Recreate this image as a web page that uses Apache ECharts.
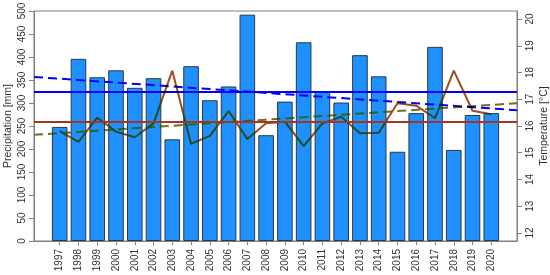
<!DOCTYPE html>
<html>
<head>
<meta charset="utf-8">
<script src="https://cdn.jsdelivr.net/npm/echarts@6/dist/echarts.min.js"></script>
<style>html,body{margin:0;padding:0;background:#fff;}#c{width:550px;height:275px;}</style>
</head>
<body>
<div id="c"></div>
<script>
const years = [1997,1998,1999,2000,2001,2002,2003,2004,2005,2006,2007,2008,2009,2010,2011,2012,2013,2014,2015,2016,2017,2018,2019,2020];
const precipitation = [248,396,356,371,333,354,221,380,306,336,492,230,303,432,325,301,404,358,194,278,422,198,274,278];
const temperature = [15.81,15.41,16.31,15.79,15.58,16.10,18.07,15.33,15.63,16.56,15.51,16.10,16.16,15.25,16.10,16.35,15.73,15.75,16.85,16.76,16.29,18.07,16.57,16.44];
const precipMean = 325;
const tempMean = 16.16;
const trendYears = [1995.63, 2021.37];
const precipTrend = [356.7, 284.3];
const tempTrend = [15.67, 16.85];
const tempTicks = [12,13,14,15,16,17,18,19,20];

const font = '"Liberation Sans", Arial, sans-serif';
const axisGrey = '#7f7f7f';
const txt = '#333';
const TEMP_COLOR = '#a04a1e';
const TEMP_TREND_COLOR = '#7a6a1e';

const chart = echarts.init(document.getElementById('c'), null, {renderer: 'canvas'});

chart.setOption({
  animation: false,
  grid: {left: 34, right: 33, top: 11, bottom: 34, show: true, borderColor: axisGrey, borderWidth: 1, backgroundColor: 'transparent', containLabel: false, outerBoundsMode: 'none'},
  xAxis: {
    type: 'value', min: trendYears[0], max: trendYears[1],
    axisLine: {show: true, lineStyle: {color: axisGrey}},
    axisTick: {show: true, customValues: years, length: 4, lineStyle: {color: axisGrey}},
    axisLabel: {customValues: years, rotate: 90, margin: 8, color: txt, fontSize: 10, fontFamily: font, formatter: v => String(v)},
    splitLine: {show: false}
  },
  yAxis: [
    {
      type: 'value', min: 0, max: 500, interval: 50,
      name: 'Precipitation [mm]', nameLocation: 'middle', nameGap: 20, nameRotate: 90, nameMoveOverlap: false,
      nameTextStyle: {color: txt, fontSize: 10.5, fontFamily: font},
      axisLine: {show: true, lineStyle: {color: axisGrey}},
      axisTick: {show: true, length: 5, lineStyle: {color: axisGrey}},
      axisLabel: {rotate: 90, margin: 7, color: txt, fontSize: 10, fontFamily: font},
      splitLine: {show: false}
    },
    {
      type: 'value', position: 'right', min: 11.7, max: 20.3,
      name: 'Temperature [°C]', nameLocation: 'middle', nameGap: 22, nameRotate: 90, nameMoveOverlap: false,
      nameTextStyle: {color: txt, fontSize: 10.5, fontFamily: font},
      axisLine: {show: true, lineStyle: {color: axisGrey}},
      axisTick: {show: true, length: 5, customValues: tempTicks, lineStyle: {color: axisGrey}},
      axisLabel: {rotate: 90, margin: 8, color: txt, fontSize: 10, fontFamily: font, customValues: tempTicks},
      splitLine: {show: false}
    }
  ],
  series: [
    {
      type: 'bar', xAxisIndex: 0, yAxisIndex: 0, barWidth: 15.6,
      data: years.map((y, i) => [y, precipitation[i]]),
      itemStyle: {color: '#1E90FF', borderColor: '#2b3a44', borderWidth: 1},
      markLine: {
        silent: true, symbol: 'none', label: {show: false},
        lineStyle: {color: '#0000ff', width: 2, type: 'solid'},
        data: [{yAxis: precipMean}]
      },
      z: 1
    },
    {
      type: 'line', xAxisIndex: 0, yAxisIndex: 0, symbol: 'none',
      data: trendYears.map((y, i) => [y, precipTrend[i]]),
      lineStyle: {color: '#0000ff', width: 2, type: [9, 5]},
      z: 3
    },
    {
      type: 'line', xAxisIndex: 0, yAxisIndex: 1, symbol: 'none',
      data: trendYears.map((y, i) => [y, tempTrend[i]]),
      lineStyle: {color: TEMP_TREND_COLOR, width: 2, type: [9, 5]},
      z: 4
    },
    {
      type: 'line', xAxisIndex: 0, yAxisIndex: 1, symbol: 'none',
      data: [],
      markLine: {
        silent: true, symbol: 'none', label: {show: false},
        lineStyle: {color: '#a8341e', width: 2, type: 'solid'},
        data: [{yAxis: tempMean}]
      },
      z: 4
    },
    {
      type: 'line', xAxisIndex: 0, yAxisIndex: 1, symbol: 'none',
      data: years.map((y, i) => [y, temperature[i]]),
      lineStyle: {color: TEMP_COLOR, width: 2},
      z: 5
    }
  ]
});

// In the reference the temperature lines turn dark green where they cross the blue bars: 'darken' blending.
(function applyBlend() {
  const zr = chart.getZr();
  const list = zr.storage.getDisplayList(true);
  list.forEach(el => {
    const s = el.style;
    if (s && typeof s.stroke === 'string') {
      const c = s.stroke.toLowerCase();
      if (c === TEMP_COLOR || c === TEMP_TREND_COLOR) {
        s.blend = 'darken';
        el.dirty && el.dirty();
      }
    }
  });
  zr.refreshImmediately();
})();
</script>
</body>
</html>
